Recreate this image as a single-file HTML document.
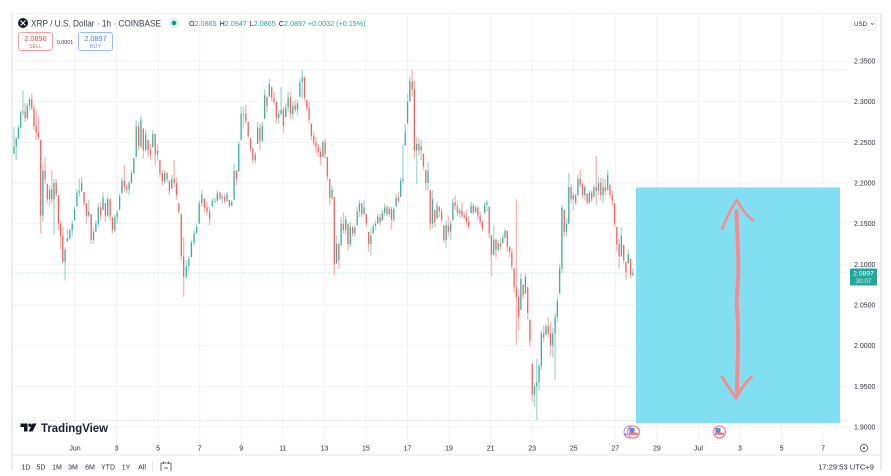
<!DOCTYPE html>
<html lang="en">
<head>
<meta charset="utf-8">
<title>XRP / U.S. Dollar chart</title>
<style>
html,body{margin:0;padding:0;background:#fff;width:891px;height:476px;overflow:hidden}
svg{display:block;font-family:"Liberation Sans",sans-serif;filter:blur(.35px)}
</style>
</head>
<body>
<svg id="chart" width="891" height="476" viewBox="0 0 891 476" xmlns="http://www.w3.org/2000/svg">
  <rect x="0" y="0" width="891" height="476" fill="#fff"/>
  <g id="grid"></g>
  <rect x="11" y="14" width="2" height="456" fill="#ececec"/>
  <rect x="11" y="13" width="871" height="1" fill="#f0f0f0"/>
  <rect x="880" y="14" width="2" height="456" fill="#ececec"/>
  <line x1="13" y1="455" x2="880" y2="455" stroke="#e6e6e6" stroke-width="1"/>
  <g id="refs"></g>
  <g id="candles"></g>
  <rect x="636" y="187.5" width="204" height="235.5" fill="#82dff1"/>
  <g fill="none" stroke="#f88a8c" stroke-linecap="round" stroke-linejoin="round">
    <path stroke-width="3.9" d="M736.5 211 C737 235 738.5 250 738.3 272 C738 285 736.5 295 736.8 305 C738 320 738.2 335 738 350 C737.5 365 737 378 737 392"/>
    <path stroke-width="2.5" d="M722 229 C727 217 732 207 736.7 200 C741 207 746 216 753 220"/>
    <path stroke-width="2.8" d="M722 377 C727 385 732 392 736 398 C740 390 746 382 751.5 377"/>
  </g>
  <g>
    <circle cx="23" cy="23" r="5" fill="#131722"/>
    <path d="M20.5 20.5 L25.5 25.5 M25.5 20.5 L20.5 25.5" stroke="#fff" stroke-width="1" fill="none"/>
    <text x="31" y="26.5" font-size="9.3" fill="#3a3e4a" textLength="130" lengthAdjust="spacingAndGlyphs">XRP / U.S. Dollar · 1h · COINBASE</text>
    <circle cx="174" cy="23" r="5" fill="#d6f2ee"/>
    <circle cx="174" cy="23" r="2.2" fill="#089981"/>
    <text x="189" y="26" font-size="7.2" fill="#26a69a"><tspan fill="#131722">O</tspan>2.0865 <tspan fill="#131722" dx="1">H</tspan>2.0947 <tspan fill="#131722" dx="1">L</tspan>2.0865 <tspan fill="#131722" dx="1">C</tspan>2.0897 +0.0032 (+0.15%)</text>
  </g>
  <g>
    <rect x="18.5" y="32.5" width="34" height="18" rx="2.5" fill="#fff" stroke="#f7a1a6"/>
    <text x="35.5" y="41" font-size="7.3" fill="#f04a55" text-anchor="middle">2.0896</text>
    <text x="35.5" y="48" font-size="5.4" fill="#f26a72" text-anchor="middle">SELL</text>
  </g>
  <text x="65" y="44" font-size="5.4" fill="#3a3e4a" text-anchor="middle">0.0001</text>
  <g>
    <rect x="78.5" y="32.5" width="34" height="18" rx="2.5" fill="#fff" stroke="#9cb9fb"/>
    <text x="95.5" y="41" font-size="7.3" fill="#3f78f3" text-anchor="middle">2.0897</text>
    <text x="95.5" y="48" font-size="5.4" fill="#6a95f5" text-anchor="middle">BUY</text>
  </g>
  <g>
    <rect x="852" y="17" width="24" height="13" rx="2" fill="#fff" stroke="#e8e9ee"/>
    <text x="854" y="26" font-size="6.2" fill="#2a2e39">USD</text>
    <path d="M871 23 L872.5 24.5 L874 23" stroke="#555" stroke-width=".7" fill="none"/>
  </g>
  <g id="priceAxis"></g>
  <g>
    <rect x="850" y="268.5" width="27" height="17" rx="1" fill="#26a69a"/>
    <text x="863.5" y="275.5" font-size="6.8" fill="#fff" text-anchor="middle">2.0897</text>
    <text x="863.5" y="283" font-size="6.4" fill="#d8f2ee" text-anchor="middle">30:07</text>
  </g>
  <g>
    <path fill="#131722" d="M20.5 423.5 H27.5 V431.5 H24 V427 H20.5 Z M32.5 423.5 H36.5 L32.5 431.5 H28.7 Z"/>
    <circle cx="30" cy="425.2" r="1.7" fill="#131722"/>
    <text x="41" y="432" font-size="11.5" font-weight="700" fill="#1c2030" textLength="67" lengthAdjust="spacingAndGlyphs">TradingView</text>
  </g>
  <g id="timeAxis"></g>
  <g>
    <circle cx="630" cy="432" r="6" fill="none" stroke="#b388f5" stroke-width="1"/>
    <text x="625.5" y="437" font-size="7" fill="#7b3ff2" text-anchor="middle">+</text>
    <circle cx="633.5" cy="432" r="6" fill="#fff" stroke="#f57f86" stroke-width="1.3"/>
    <rect x="629" y="432.5" width="9" height="2.5" fill="#f57f86"/>
    <rect x="629.5" y="428" width="5" height="4.5" fill="#4f8fe6"/>
  </g>
  <g>
    <circle cx="719.5" cy="432" r="6" fill="#fff" stroke="#f57f86" stroke-width="1.3"/>
    <rect x="715" y="432.5" width="9" height="2.5" fill="#f57f86"/>
    <rect x="715.5" y="428" width="5" height="4.5" fill="#4f8fe6"/>
  </g>
  <g>
    <circle cx="864" cy="448" r="3.6" fill="none" stroke="#555" stroke-width=".9"/>
    <circle cx="864" cy="448" r="1.1" fill="#555"/>
  </g>
  <g id="ranges"></g>
  <line x1="152.5" y1="461" x2="152.5" y2="471" stroke="#e0e3eb"/>
  <g fill="none" stroke="#444" stroke-width=".8">
    <path d="M161 463 H171 M161 463 V471 M171 463 V471 M163.5 461.5 V464 M168.5 461.5 V464 M164 468 H168"/>
  </g>
  <text x="874" y="469.5" font-size="7.6" fill="#2a2e39" text-anchor="end">17:29:53 UTC+9</text>
  <rect x="0" y="471" width="891" height="5" fill="#fff"/>
</svg>
<script>
const highs = [
2.269,2.257,2.271,2.289,2.314,2.298,2.298,2.306,2.310,2.296,
2.289,2.283,2.253,2.224,2.232,2.199,2.197,2.216,2.205,2.205,
2.185,2.154,2.146,2.121,2.144,2.144,2.154,2.171,2.193,2.205,
2.207,2.189,2.175,2.179,2.162,2.144,2.154,2.175,2.177,2.189,
2.175,2.185,2.181,2.158,2.162,2.167,2.187,2.207,2.222,2.199,
2.203,2.216,2.232,2.277,2.275,2.283,2.267,2.265,2.253,2.248,
2.265,2.261,2.248,2.228,2.216,2.216,2.214,2.203,2.210,2.228,
2.207,2.175,2.162,2.134,2.105,2.111,2.130,2.142,2.150,2.179,
2.191,2.181,2.177,2.171,2.181,2.182,2.191,
2.189,2.185,2.187,2.189,2.179,2.179,2.224,2.216,2.251,2.294,
2.294,2.296,2.275,2.255,2.244,2.238,2.275,2.273,2.275,2.315,
2.306,2.328,2.318,2.312,2.300,2.290,2.318,2.294,2.298,2.312,
2.312,2.300,2.302,2.302,2.328,2.339,2.331,2.302,2.300,2.273,
2.263,2.257,2.248,2.244,2.253,2.255,2.232,2.205,2.197,2.183,
2.136,2.127,2.158,2.164,2.160,2.150,2.152,2.148,2.148,2.171,
2.179,2.175,2.179,2.162,2.140,2.144,2.150,2.154,2.162,2.162,
2.167,2.175,2.173,2.171,2.171,2.171,2.187,2.189,2.207,2.248,
2.273,2.310,2.331,2.339,2.326,2.257,2.255,2.253,2.236,2.216,
2.226,2.191,2.191,2.167,2.177,2.171,
2.169,2.148,2.154,2.159,2.154,2.181,2.185,2.177,2.169,2.177,
2.165,2.167,2.159,2.177,2.175,2.173,2.171,2.165,2.154,2.177,
2.179,2.171,2.136,2.148,2.132,2.130,2.132,2.136,2.144,2.142,
2.122,2.120,2.095,2.180,2.068,2.089,2.075,2.089,2.072,2.032,
1.978,1.954,1.984,1.978,2.019,2.025,2.027,2.035,2.029,2.021,
2.040,2.060,2.101,2.173,2.167,2.157,2.212,2.198,2.189,2.187,
2.210,2.216,2.200,2.198,2.187,2.191,2.191,2.198,2.233,2.208,
2.206,2.206,2.204,2.216,2.198,2.191,2.175,2.146,2.132,2.146,
2.124,2.103,2.118,2.107,2.095];
const lows = [
2.236,2.228,2.253,2.267,2.283,2.275,2.277,2.289,2.289,2.265,
2.253,2.253,2.138,2.152,2.199,2.175,2.171,2.175,2.136,2.183,
2.142,2.119,2.101,2.080,2.128,2.130,2.134,2.154,2.171,2.183,
2.189,2.171,2.150,2.158,2.125,2.125,2.140,2.146,2.154,2.167,
2.152,2.158,2.154,2.138,2.140,2.150,2.167,2.187,2.189,2.187,
2.185,2.199,2.212,2.232,2.240,2.242,2.230,2.240,2.232,2.228,
2.244,2.222,2.228,2.207,2.197,2.199,2.201,2.185,2.193,2.195,
2.179,2.162,2.105,2.060,2.082,2.091,2.109,2.123,2.138,2.150,
2.171,2.164,2.160,2.148,2.171,2.175,2.178,
2.179,2.175,2.175,2.177,2.169,2.171,2.179,2.197,2.214,2.253,
2.267,2.273,2.255,2.238,2.224,2.224,2.248,2.240,2.251,2.279,
2.287,2.306,2.300,2.296,2.273,2.273,2.283,2.261,2.281,2.287,
2.279,2.279,2.287,2.283,2.306,2.304,2.300,2.289,2.273,2.253,
2.246,2.236,2.232,2.222,2.232,2.230,2.203,2.173,2.179,2.087,
2.101,2.095,2.123,2.138,2.136,2.117,2.121,2.134,2.134,2.148,
2.158,2.158,2.160,2.146,2.115,2.111,2.138,2.142,2.150,2.148,
2.154,2.160,2.160,2.158,2.142,2.152,2.171,2.175,2.183,2.199,
2.246,2.273,2.300,2.306,2.230,2.199,2.234,2.228,2.216,2.191,
2.191,2.142,2.144,2.146,2.156,2.158,
2.152,2.126,2.120,2.134,2.130,2.154,2.167,2.159,2.157,2.157,
2.155,2.148,2.144,2.163,2.161,2.163,2.155,2.148,2.140,2.163,
2.165,2.132,2.085,2.111,2.107,2.116,2.118,2.126,2.132,2.116,
2.109,2.093,2.066,2.001,2.019,2.044,2.058,2.064,2.032,1.999,
1.931,1.925,1.908,1.945,1.970,2.005,2.013,2.011,1.988,1.986,
1.958,2.029,2.064,2.089,2.134,2.134,2.150,2.175,2.167,2.173,
2.185,2.195,2.181,2.179,2.173,2.175,2.177,2.183,2.173,2.185,
2.179,2.175,2.185,2.191,2.181,2.173,2.146,2.116,2.095,2.109,
2.101,2.081,2.101,2.083,2.085];
const closes = [
2.245,2.255,2.268,2.287,2.288,2.280,2.295,2.303,2.292,2.270,
2.262,2.256,2.160,2.215,2.205,2.180,2.192,2.180,2.200,2.186,
2.150,2.135,2.103,2.118,2.132,2.142,2.150,2.168,2.188,2.190,
2.200,2.175,2.160,2.165,2.130,2.140,2.150,2.170,2.160,2.182,
2.160,2.180,2.160,2.142,2.158,2.163,2.184,2.203,2.195,2.192,
2.200,2.212,2.230,2.270,2.245,2.278,2.240,2.260,2.240,2.235,
2.260,2.235,2.240,2.212,2.202,2.212,2.205,2.190,2.205,2.200,
2.185,2.165,2.110,2.085,2.098,2.107,2.127,2.138,2.146,2.175,
2.186,2.170,2.165,2.155,2.178,2.178,2.188,
2.181,2.183,2.178,2.186,2.172,2.177,2.215,2.205,2.248,2.285,
2.285,2.276,2.258,2.242,2.228,2.235,2.268,2.252,2.270,2.308,
2.295,2.322,2.305,2.300,2.280,2.285,2.290,2.270,2.293,2.305,
2.285,2.295,2.290,2.298,2.324,2.330,2.305,2.292,2.278,2.258,
2.250,2.245,2.238,2.232,2.250,2.236,2.208,2.182,2.192,2.100,
2.125,2.105,2.150,2.142,2.155,2.125,2.146,2.138,2.145,2.165,
2.175,2.162,2.170,2.150,2.125,2.135,2.147,2.150,2.158,2.152,
2.163,2.170,2.162,2.168,2.155,2.168,2.182,2.178,2.203,2.205,
2.262,2.300,2.325,2.315,2.240,2.248,2.240,2.245,2.220,2.200,
2.215,2.150,2.180,2.152,2.172,2.165,
2.155,2.130,2.148,2.140,2.150,2.176,2.172,2.163,2.166,2.160,
2.158,2.152,2.146,2.172,2.164,2.170,2.160,2.152,2.144,2.173,
2.176,2.138,2.112,2.130,2.118,2.126,2.122,2.133,2.141,2.122,
2.115,2.098,2.072,2.060,2.035,2.082,2.062,2.085,2.040,2.005,
1.940,1.950,1.955,1.975,2.015,2.010,2.024,2.015,2.000,2.015,
2.035,2.055,2.095,2.170,2.140,2.150,2.195,2.180,2.185,2.176,
2.205,2.198,2.185,2.195,2.176,2.188,2.180,2.195,2.190,2.200,
2.185,2.195,2.190,2.210,2.185,2.178,2.150,2.125,2.110,2.135,
2.105,2.090,2.112,2.087,2.0897];
const keyCandles = [0,23,73,87,122,170,225,267];
const keyHours = [0,59,196,238,333,460,604,715];
const priceTicks = [2.35,2.30,2.25,2.20,2.15,2.10,2.05,2.00,1.95,1.90];
const dateTickDays = [0,2,4,6,8,10,12,14,16,18,20,22,24,26,28,30,32,34,36];
const dateTickLabels = ["Jun","3","5","7","9","11","13","15","17","19","21","23","25","27","29","Jul","3","5","7"];
const rangeLabels = ["1D","5D","1M","3M","6M","YTD","1Y","All"];
const rangeCenters = [26,41,57,73,90,108,126,142];
const lastPrice = 2.0897;
const highestPrice = 2.339;
const lowestPrice = 1.908;

const NS = "http://www.w3.org/2000/svg";
const yOf = p => 183 + (2.2 - p) * 813.5;
function hourOf(i) {
  let k = 0;
  while (k < keyCandles.length - 2 && i > keyCandles[k + 1]) k++;
  const f = (i - keyCandles[k]) / (keyCandles[k + 1] - keyCandles[k]);
  return keyHours[k] + f * (keyHours[k + 1] - keyHours[k]);
}
const xOf = i => 14 + hourOf(i) * 0.8655;
const xOfDay = d => 75 + d * 20.78;
function mk(tag, parent, attrs) {
  const el = document.createElementNS(NS, tag);
  for (const k in attrs) el.setAttribute(k, attrs[k]);
  parent.appendChild(el);
  return el;
}
const grid = document.getElementById("grid");
priceTicks.forEach(p => {
  const l = mk("line", grid, {x1:13, x2:848, y1:yOf(p), y2:yOf(p), stroke:"#f1f2f4", "stroke-width":1});
  
  
});
dateTickDays.forEach(d => {
  const l = mk("line", grid, {x1:xOfDay(d), x2:xOfDay(d), y1:14, y2:455, stroke:"#f1f2f4", "stroke-width":1});
  
  
});
const refs = document.getElementById("refs");
[[highestPrice,"#d9dbe0"],[lowestPrice,"#d9dbe0"],[lastPrice,"#bfe3de"]].forEach(r => {
  const l = mk("line", refs, {x1:13, x2:848, y1:yOf(r[0]), y2:yOf(r[0]), stroke:r[1], "stroke-width":1, "stroke-dasharray":"1 1.5"});
  
  
});
const candleLayer = document.getElementById("candles");
closes.forEach((c, i) => {
  const hi = highs[i], lo = lows[i];
  const rawOpen = i === 0 ? lo : closes[i - 1];
  const open = Math.min(hi, Math.max(lo, rawOpen));
  const up = c >= open;
  const col = up ? "#26a69a" : "#ef5350";
  const pale = up ? "#a8dcd6" : "#f9b8b6";
  const x = xOf(i);
  const wick = mk("line", candleLayer, {x1:x, x2:x, y1:yOf(hi), y2:yOf(lo), stroke:pale, "stroke-width":1.4});
  
  
  const top = yOf(Math.max(open, c));
  const h = Math.max(1, Math.abs(yOf(open) - yOf(c)));
  const body = mk("rect", candleLayer, {x:x - 0.6, y:top, width:1.2, height:h, fill:col, opacity:0.85});
  
  
});
const priceAxis = document.getElementById("priceAxis");
priceTicks.forEach(p => {
  const t = mk("text", priceAxis, {x:854, y:yOf(p) + 2.5, "font-size":7, fill:"#2a2e39"});
  
  
  t.textContent = p.toFixed(4);
});
const timeAxis = document.getElementById("timeAxis");
dateTickDays.forEach((d, i) => {
  const t = mk("text", timeAxis, {x:xOfDay(d), y:450.5, "font-size":7, fill:"#2a2e39", "text-anchor":"middle"});
  
  
  t.textContent = dateTickLabels[i];
});
const ranges = document.getElementById("ranges");
rangeLabels.forEach((r, i) => {
  const t = mk("text", ranges, {x:rangeCenters[i], y:469.5, "font-size":7, fill:"#2a2e39", "text-anchor":"middle"});
  
  
  t.textContent = r;
});
</script>
</body>
</html>
